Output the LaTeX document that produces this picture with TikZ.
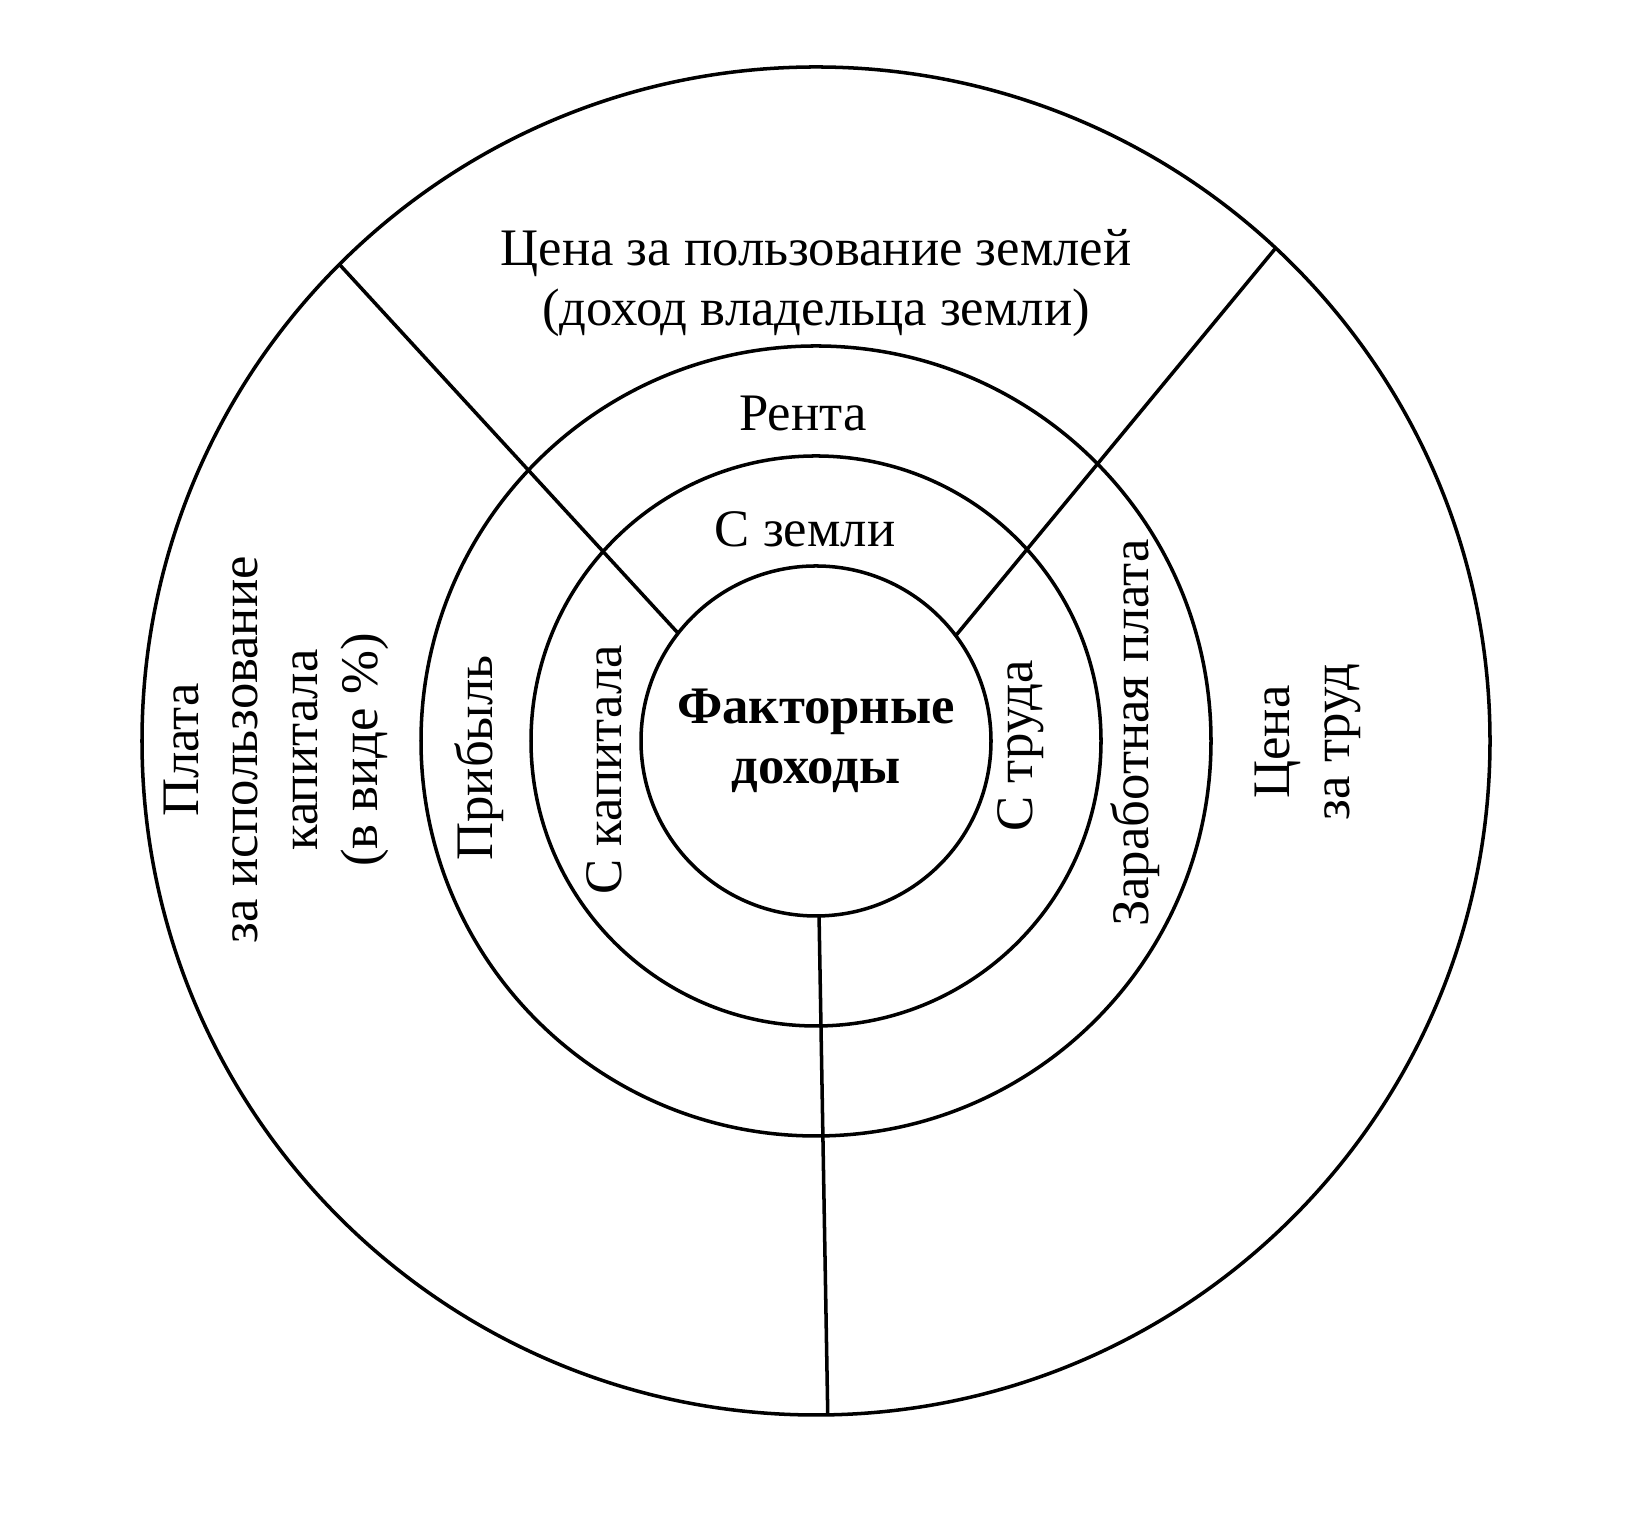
\documentclass[tikz,border=0pt]{standalone}
\usepackage{fontspec}
\setmainfont{Liberation Serif}
\usetikzlibrary{positioning}

\begin{document}
\begin{tikzpicture}[
        ring/.style={
            draw,
            circle,
            line width=1pt,
            inner sep=0pt,
            outer sep=0pt
        },
        sector/.style={
            line width=1pt
        },
        ringlabel/.style={
            font=\fontsize{15}{17}\selectfont,
            align=center,
            inner sep=1pt
        },
        sidelabel/.style={
            ringlabel,
            rotate=90
        }
    ]
        \useasboundingbox (0,0) rectangle (16.25,15.25);
        \coordinate (c) at (8.16,7.84);
        \node[ring, minimum size=13.48cm] (outer) at (c) {};
        \node[ring, minimum size=7.9cm] (mid) at (c) {};
        \node[ring, minimum size=5.7cm] (inner) at (c) {};
        \node[ring, ringlabel, minimum size=3.5cm, font=\fontsize{15}{17}\selectfont\bfseries] (core) at (c) {Факторные\\доходы};

        \draw[sector] (core.142.6) -- (outer.135.5);
        \draw[sector] (core.37.9) -- (outer.47.5);
        \draw[sector] (core.-89) -- (outer.-89);

        \node[ringlabel] (landprice) at (8.16,12.42) {Цена за пользование землей\\(доход владельца земли)};
        \node[ringlabel] (rent) at (8.03,11.11) {Рента};
        \node[ringlabel] (fromland) at (8.05,9.96) {С земли};
        \node[sidelabel] (fromcapital) at (6.04,7.55) {С капитала};
        \node[sidelabel] (profit) at (4.79,7.67) {Прибыль};
        \node[sidelabel] (capitalfee) at (2.76,7.75) {Плата\\за использование\\капитала\\(в виде \%)};
        \node[sidelabel] (fromlabour) at (10.21,7.79) {С труда};
        \node[sidelabel] (wage) at (11.35,7.92) {Заработная плата};
        \node[sidelabel] (labourprice) at (13.08,7.83) {Цена\\за труд};
    \end{tikzpicture}
\end{document}
